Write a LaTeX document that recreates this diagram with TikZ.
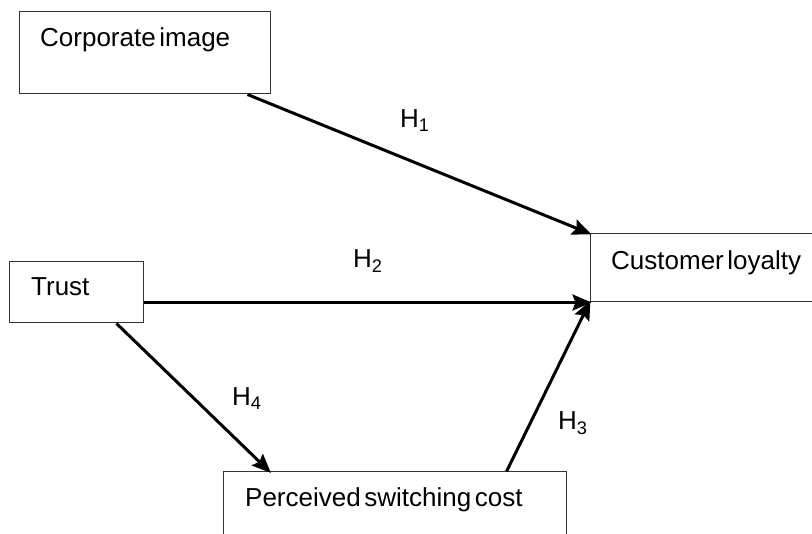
\documentclass[tikz,border=0pt]{standalone}
\usepackage{fontspec}
\setmainfont[WordSpace=0.5]{Liberation Sans}
\usetikzlibrary{arrows.meta,calc}
\begin{document}
\begin{tikzpicture}[x=1pt,y=-1pt,
  box/.style={draw=black!80,line width=1pt,rectangle,inner sep=0pt,fill=none},
  txt/.style={anchor=base west,inner sep=0pt,font=\fontsize{26}{30}\selectfont},
  hyp/.style={anchor=base west,inner sep=0pt,font=\fontsize{26}{30}\selectfont},
  link/.style={line width=3pt,-{Stealth[length=19pt,width=16pt,inset=3pt]},shorten >=-2pt}
]
\useasboundingbox (0,0) rectangle (812,534);
\clip (0,0) rectangle (812,534);
% boxes
\node[box,minimum width=251pt,minimum height=82pt] (corp) at (144.5,53) {};
\node[box,minimum width=240pt,minimum height=68pt] (loyal) at (710,268) {};
\node[box,minimum width=134pt,minimum height=61pt] (trust) at (76,292.5) {};
\node[box,minimum width=343pt,minimum height=88pt] (cost) at (394.5,516) {};
% texts
\node[txt] (tcorp) at (40,47) {Corporate image};
\node[txt] (tloyal) at (611,270) {Customer loyalty};
\node[txt] (ttrust) at (31,296) {Trust};
\node[txt] (tcost) at (245,507) {Perceived switching cost};
% connectors
\draw[link] ($(corp.south west)+(229,0)$) -- (loyal.north west);
\draw[link] ($(trust.south east)+(0,-21)$) -- (loyal.south west);
\draw[link] ($(cost.north west)+(284,0)$) -- (loyal.south west);
\draw[link] ($(trust.south west)+(108,0)$) -- ($(cost.north west)+(47,0)$);
% labels
\node[hyp] (h1) at (400,128) {H\textsubscript{1}};
\node[hyp] (h2) at (353,268) {H\textsubscript{2}};
\node[hyp] (h3) at (558,430) {H\textsubscript{3}};
\node[hyp] (h4) at (232,406) {H\textsubscript{4}};
\end{tikzpicture}
\end{document}
